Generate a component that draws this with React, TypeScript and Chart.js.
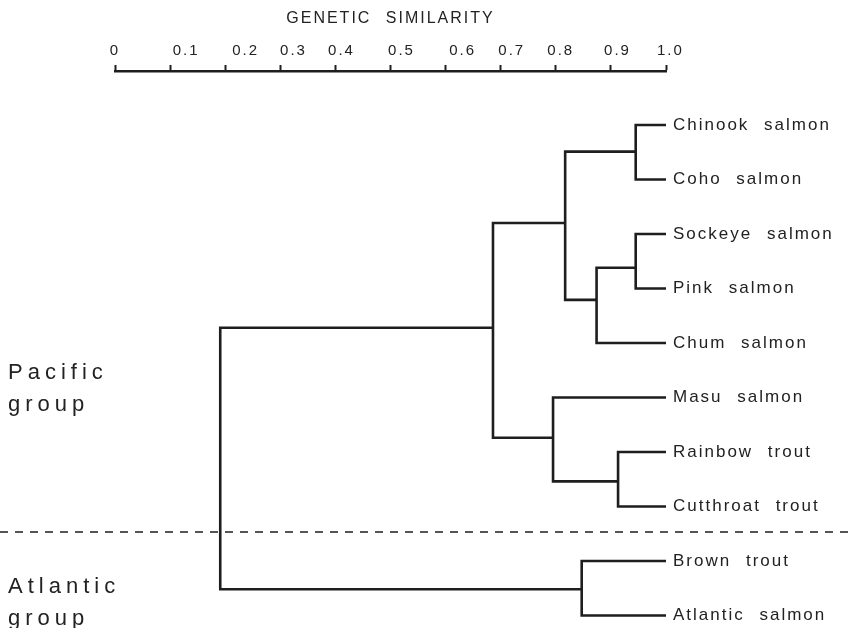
import { useEffect, useRef } from "react";
import { Chart, registerables } from "chart.js";

Chart.register(...registerables);

// ---- data ----
const species = [
  "Chinook salmon",
  "Coho salmon",
  "Sockeye salmon",
  "Pink salmon",
  "Chum salmon",
  "Masu salmon",
  "Rainbow trout",
  "Cutthroat trout",
  "Brown trout",
  "Atlantic salmon",
];

// internal nodes get ids 10, 11, ... ; children refer to leaf ids (0-9) or node ids
const nodeChildren = [
  [0, 1], // 10 Chinook + Coho
  [2, 3], // 11 Sockeye + Pink
  [11, 4], // 12 + Chum
  [10, 12], // 13 salmon cluster
  [6, 7], // 14 Rainbow + Cutthroat
  [5, 14], // 15 Masu + trouts
  [13, 15], // 16 Pacific group
  [8, 9], // 17 Brown + Atlantic
  [16, 17], // 18 root
];
const nodeSimilarity = [0.945, 0.945, 0.874, 0.817, 0.913, 0.795, 0.686, 0.847, 0.191];
const nodeRow = [0.49, 2.62, 3.21, 1.8, 6.54, 5.74, 3.72, 8.52, 6.1];
const leafSimilarity = 1.0;

const axisTicks = [0, 0.1, 0.2, 0.3, 0.4, 0.5, 0.6, 0.7, 0.8, 0.9, 1.0];
const tickLabels = ["0", "0.1", "0.2", "0.3", "0.4", "0.5", "0.6", "0.7", "0.8", "0.9", "1.0"];
const tickLabelAt = [0, 0.129, 0.237, 0.324, 0.411, 0.52, 0.631, 0.72, 0.809, 0.912, 1.008];
const axisTitle = "GENETIC SIMILARITY";
const groupLabels = [
  ["Pacific", "group"],
  ["Atlantic", "group"],
];
const groupDividerRow = 7.47;

const INK = "#1e1e1e";
const FONT = '"Liberation Sans", Arial, Helvetica, sans-serif';

function posOf(id: number) {
  if (id < species.length) return { x: leafSimilarity, y: id };
  const k = id - species.length;
  return { x: nodeSimilarity[k], y: nodeRow[k] };
}

function buildDatasets() {
  return nodeChildren.map((ch, k) => {
    const nx = nodeSimilarity[k];
    const a = posOf(ch[0]);
    const b = posOf(ch[1]);
    return {
      label: "node" + k,
      data: [
        { x: a.x, y: a.y },
        { x: nx, y: a.y },
        { x: nx, y: b.y },
        { x: b.x, y: b.y },
      ],
      showLine: true,
      borderColor: INK,
      borderWidth: 2.6,
      pointRadius: 0,
      tension: 0,
      fill: false,
      borderJoinStyle: "miter" as const,
      clip: 4,
    };
  });
}

const decorPlugin = {
  id: "decor",
  beforeDraw(chart: any) {
    const ctx = chart.ctx;
    ctx.letterSpacing = "2px";
    ctx.wordSpacing = "8px";
  },
  beforeDatasetsDraw(chart: any) {
    const ctx = chart.ctx;
    const y = chart.scales.y.getPixelForValue(groupDividerRow);
    ctx.save();
    ctx.strokeStyle = INK;
    ctx.lineWidth = 1.5;
    ctx.setLineDash([8, 7]);
    ctx.beginPath();
    ctx.moveTo(0, y);
    ctx.lineTo(chart.width, y);
    ctx.stroke();
    ctx.restore();
  },
  afterDraw(chart: any) {
    const ctx = chart.ctx;
    ctx.save();
    ctx.fillStyle = "#222";
    ctx.font = "22px " + FONT;
    ctx.letterSpacing = "5px";
    ctx.textBaseline = "alphabetic";
    ctx.textAlign = "left";
    ctx.fillText(groupLabels[0][0], 8, 379);
    ctx.fillText(groupLabels[0][1], 8, 411);
    ctx.fillText(groupLabels[1][0], 8, 593);
    ctx.fillText(groupLabels[1][1], 8, 625);
    ctx.restore();
  },
};

export default function App() {
  const ref = useRef<HTMLCanvasElement | null>(null);

  useEffect(() => {
    if (!ref.current) return;
    const chart = new Chart(ref.current, {
      type: "scatter",
      data: { datasets: buildDatasets() as any },
      options: {
        responsive: false,
        animation: false,
        devicePixelRatio: 1,
        layout: { padding: { left: 115, right: 0, top: 0, bottom: 0 } },
        plugins: {
          legend: { display: false },
          tooltip: { enabled: false },
        },
        scales: {
          x: {
            type: "linear",
            position: "top",
            min: 0,
            max: 1,
            weight: 0,
            afterBuildTicks: (s: any) => {
              s.ticks = axisTicks.map((v) => ({ value: v }));
            },
            afterFit: (s: any) => {
              s.height = 7;
              s.paddingLeft = 0;
              s.paddingRight = 0;
            },
            ticks: { display: false },
            grid: {
              drawOnChartArea: false,
              drawTicks: true,
              tickLength: 6,
              tickWidth: 2,
              tickColor: INK,
            },
            border: { display: true, width: 2.5, color: INK },
          },
          xLabels: {
            type: "linear",
            position: "top",
            min: 0,
            max: 1,
            weight: 1,
            afterBuildTicks: (s: any) => {
              s.ticks = tickLabelAt.map((v) => ({ value: v }));
            },
            afterFit: (s: any) => {
              s.height = 64;
              s.paddingLeft = 0;
              s.paddingRight = 0;
            },
            ticks: {
              autoSkip: false,
              maxRotation: 0,
              minRotation: 0,
              padding: 4,
              color: "#222",
              font: { family: FONT, size: 15 },
              callback: (_v: any, i: number) => tickLabels[i],
            },
            grid: { display: false, drawTicks: false },
            border: { display: false },
            title: {
              display: true,
              text: axisTitle,
              color: "#222",
              font: { family: FONT, size: 16 },
              padding: { top: 9.4, bottom: 0 },
            },
          },
          y: {
            type: "linear",
            position: "right",
            reverse: true,
            min: -0.99,
            max: 9.23,
            afterBuildTicks: (s: any) => {
              s.ticks = species.map((_n, i) => ({ value: i }));
            },
            afterFit: (s: any) => {
              s.width = 186;
              s.paddingTop = 0;
              s.paddingBottom = 0;
            },
            ticks: {
              autoSkip: false,
              padding: 7,
              color: "#222",
              font: { family: FONT, size: 17 },
              callback: (_v: any, i: number) => species[i],
            },
            grid: { display: false, drawTicks: false },
            border: { display: false },
          },
        },
      },
      plugins: [decorPlugin],
    });
    return () => chart.destroy();
  }, []);

  return (
    <div style={{ position: "absolute", left: 0, top: 0, width: 852, height: 628, background: "#fff" }}>
      <canvas ref={ref} width={852} height={628} style={{ display: "block" }} />
    </div>
  );
}
